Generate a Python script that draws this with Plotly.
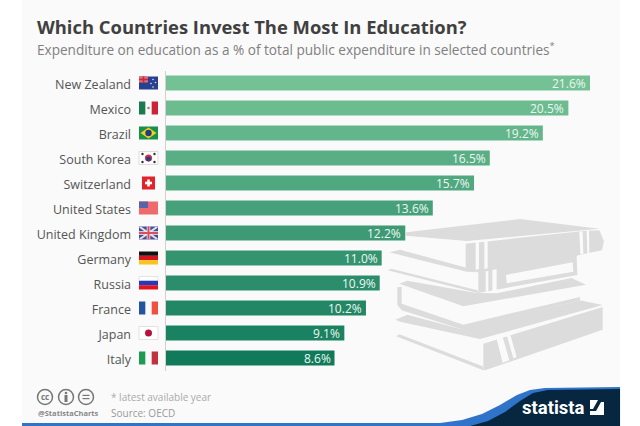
import plotly.graph_objects as go

W, H = 640, 426

countries = ["New Zealand", "Mexico", "Brazil", "South Korea", "Switzerland", "United States",
             "United Kingdom", "Germany", "Russia", "France", "Japan", "Italy"]
shares = [21.6, 20.5, 19.2, 16.5, 15.7, 13.6, 12.2, 11.0, 10.9, 10.2, 9.1, 8.6]
share_labels = ["21.6%", "20.5%", "19.2%", "16.5%", "15.7%", "13.6%",
                "12.2%", "11.0%", "10.9%", "10.2%", "9.1%", "8.6%"]
bar_colors = ["#74c195", "#6cbc90", "#63b58b", "#59ae85", "#50a880", "#46a17b",
              "#3d9a75", "#349470", "#2b8d6b", "#238766", "#1a8161", "#117a5b"]

PANEL = "#fafafa"
GREY = "#dcdcdc"
shapes = []
annotations = []


# everything decorative is placed in picture pixels, y going down
def px(x):
    return x / W


def py(y):
    return 1 - y / H


def poly(points, color, layer="below"):
    path = "M " + " L ".join(f"{px(x):.4f},{py(y):.4f}" for x, y in points) + " Z"
    shapes.append(dict(type="path", xref="paper", yref="paper", path=path,
                       fillcolor=color, line_width=0, layer=layer))


def rect(x0, y0, x1, y1, color, layer="above", border=None):
    shapes.append(dict(type="rect", xref="paper", yref="paper", x0=px(x0), x1=px(x1), y0=py(y0), y1=py(y1),
                       fillcolor=color, line=dict(width=1 if border else 0, color=border or color), layer=layer))


def circle(cx, cy, r, color, layer="above", border=None, width=1):
    shapes.append(dict(type="circle", xref="paper", yref="paper", x0=px(cx - r), x1=px(cx + r),
                       y0=py(cy - r), y1=py(cy + r), fillcolor=color,
                       line=dict(width=width if border else 0, color=border or color), layer=layer))


def label(x, y, text, size, color, anchor="left", family="Open Sans"):
    annotations.append(dict(xref="paper", yref="paper", x=px(x), y=py(y), text=text, showarrow=False,
                            xanchor=anchor, yanchor="middle", align=anchor,
                            font=dict(family=family, size=size, color=color)))


def book_poly(points, color):
    poly([(320 + x / 3, 213 + y / 3) for x, y in points], color)


def draw_books():
    # top book
    book_poly([(258, 58), (600, 18), (838, 47), (440, 84), (258, 68)], GREY)
    book_poly([(437, 92), (790, 54), (838, 52), (852, 85), (846, 112), (795, 122), (770, 128),
               (772, 186), (475, 240), (475, 178), (437, 170)], GREY)
    book_poly([(467, 88), (477, 87), (477, 168), (467, 170)], PANEL)
    book_poly([(493, 84), (503, 83), (503, 166), (493, 168)], PANEL)
    book_poly([(778, 56), (788, 55), (790, 123), (781, 124)], PANEL)
    book_poly([(800, 54), (807, 53), (808, 120), (802, 121)], PANEL)
    # second book
    book_poly([(208, 118), (240, 110), (445, 166), (470, 178), (440, 176)], GREY)
    book_poly([(203, 172), (214, 167), (472, 232), (475, 241), (440, 232)], GREY)
    book_poly([(497, 175), (505, 174), (505, 240), (497, 241)], PANEL)
    book_poly([(517, 171), (530, 169), (530, 238), (517, 240)], PANEL)
    book_poly([(558, 186), (758, 148), (760, 176), (560, 211)], PANEL)
    # third book, open pages with a rounded spine around them
    book_poly([(238, 212), (262, 203), (470, 240), (530, 241), (755, 195), (798, 215), (430, 280)], GREY)
    book_poly([(232, 222), (245, 222), (245, 272), (430, 335), (780, 252), (780, 262), (430, 350),
               (245, 292), (232, 275)], GREY)
    # fourth book
    book_poly([(226, 320), (262, 305), (425, 349), (780, 262), (848, 276), (480, 378), (240, 326)], GREY)
    book_poly([(228, 370), (238, 364), (488, 460), (490, 472), (440, 452)], GREY)
    book_poly([(490, 392), (848, 282), (848, 350), (495, 472), (490, 470)], GREY)
    book_poly([(530, 378), (548, 372), (568, 442), (548, 449)], PANEL)
    book_poly([(560, 366), (570, 362), (590, 432), (580, 436)], PANEL)


def draw_flag(i, name):
    x0, x1 = 139, 158
    cy = 83 + 25 * i
    y0, y1 = cy - 6.5, cy + 6.5
    w = (x1 - x0) / 3
    if name == "New Zealand":
        rect(x0, y0, x1, y1, "#27408f")
        rect(x0, y0, x0 + 9, y0 + 6, "#d9747f")
        rect(x0, y0 + 2.2, x0 + 9, y0 + 3.8, "#d8232f")
        rect(x0 + 3.7, y0, x0 + 5.3, y0 + 6, "#d8232f")
        for dx, dy in [(14, 3), (16.5, 6), (12, 7), (14, 10.5)]:
            circle(x0 + dx, y0 + dy, 0.8, "#e6e6ee")
    elif name == "Mexico":
        rect(x0, y0, x0 + w, y1, "#1b7a50")
        rect(x0 + 2 * w, y0, x1, y1, "#cc2338")
        circle(x0 + 1.5 * w, cy, 1.3, "#9b8a5a")
    elif name == "Brazil":
        rect(x0, y0, x1, y1, "#17924a")
        poly([(x0 + 1.5, cy), (x0 + 9.5, y0 + 1), (x1 - 1.5, cy), (x0 + 9.5, y1 - 1)], "#f2d21e", "above")
        circle(x0 + 9.5, cy, 3.2, "#253a80")
    elif name == "South Korea":
        rect(x0, y0, x1, y1, "#ffffff", border="#dddddd")
        circle(x0 + 9.5, cy, 3.6, "#d8303f")
        circle(x0 + 9.5, cy + 1, 2.4, "#20408f")
        for dx, dy in [(3.5, 2.5), (15.5, 2.5), (3.5, 10.5), (15.5, 10.5)]:
            circle(x0 + dx, y0 + dy, 1.2, "#333333")
    elif name == "Switzerland":
        rect(x0 + 3, y0, x1 - 3, y1, "#e3232c")
        rect(x0 + 6, cy - 1.3, x1 - 6, cy + 1.3, "#ffffff")
        rect(x0 + 8.2, cy - 3.5, x1 - 8.2, cy + 3.5, "#ffffff")
    elif name == "United States":
        rect(x0, y0, x1, y1, "#ef6a6a")
        rect(x0, y0, x0 + 9, y0 + 6.5, "#5a63a8")
    elif name == "United Kingdom":
        rect(x0, y0, x1, y1, "#3f4f9b")
        poly([(x0, y0 + 1), (x0 + 2, y0), (x1, y1 - 1), (x1 - 2, y1)], "#e8dfe6", "above")
        poly([(x0, y1 - 1), (x0 + 2, y1), (x1, y0 + 1), (x1 - 2, y0)], "#e8dfe6", "above")
        rect(x0, cy - 1.8, x1, cy + 1.8, "#f0e8ea")
        rect(x0 + 7.7, y0, x1 - 7.7, y1, "#f0e8ea")
        rect(x0, cy - 1, x1, cy + 1, "#d8505c")
        rect(x0 + 8.5, y0, x1 - 8.5, y1, "#d8505c")
    elif name == "Germany":
        rect(x0, y0, x1, y0 + 4.3, "#111111")
        rect(x0, y0 + 4.3, x1, y0 + 8.7, "#d8141e")
        rect(x0, y0 + 8.7, x1, y1, "#f7c51b")
    elif name == "Russia":
        rect(x0, y0, x1, y0 + 4.3, "#ffffff", border="#e4e4e4")
        rect(x0, y0 + 4.3, x1, y0 + 8.7, "#2438c0")
        rect(x0, y0 + 8.7, x1, y1, "#e3141e")
    elif name == "France":
        rect(x0, y0, x0 + w, y1, "#23559f")
        rect(x0 + 2 * w, y0, x1, y1, "#ef5040")
    elif name == "Japan":
        rect(x0, y0, x1, y1, "#ffffff", border="#e2e2e2")
        circle(x0 + 9.5, cy, 3.5, "#b8123c")
    elif name == "Italy":
        rect(x0, y0, x0 + w, y1, "#1f9a52")
        rect(x0 + 2 * w, y0, x1, y1, "#c0323e")


# page background and footer
rect(22, 0, 620, 426, PANEL, layer="below")
draw_books()
for i, name in enumerate(countries):
    draw_flag(i, name)

poly([(22, 423), (440, 423), (462, 420), (482, 414), (500, 405), (517, 395), (530, 390), (545, 388), (620, 387),
      (620, 426), (22, 426)], "#2f74c8", "above")
poly([(470, 426), (488, 421), (505, 412), (520, 401), (533, 393), (548, 390), (620, 389), (620, 426)],
     "#07263f", "above")
label(520, 408, "<b>statista</b>", 18.5, "#ffffff", family="Liberation Sans Narrow, Roboto")
rect(590, 400, 604, 415, "#ffffff")
poly([(590, 411), (596, 411), (601, 402), (604, 402), (604, 400), (598, 400), (593, 409), (590, 409)], "#07263f", "above")

# licence icons and footnotes
for cx in [45, 66, 86]:
    circle(cx, 397, 7.5, "rgba(0,0,0,0)", border="#777777", width=1.5)
label(45, 396.5, "<b>cc</b>", 8, "#777777", "center")
circle(66, 393, 1.3, "#777777")
rect(64.5, 395, 67.5, 402, "#777777")
rect(82.5, 394.8, 89.5, 396, "#777777")
rect(82.5, 398, 89.5, 399.2, "#777777")
label(36, 413, "<b>@StatistaCharts</b>", 7.5, "#888888")
label(109, 396.5, "* latest available year", 10, "#aaaaaa")
label(109, 413, "Source: OECD", 10, "#999999")

label(35, 49, "Expenditure on education as a % of total public expenditure in selected countries<sup>*</sup>",
      13.6, "#808080")

# value labels sit on the bar ends; as bar text they would get shrunk to the bar height
for country, share, text in zip(countries, shares, share_labels):
    annotations.append(dict(xref="x", yref="y", x=share, y=country, text=text, showarrow=False,
                            xanchor="right", yanchor="middle", xshift=-2,
                            font=dict(family="Open Sans", size=12, color="#eef7f2")))

fig = go.Figure(go.Bar(
    y=countries,
    x=shares,
    orientation="h",
    marker=dict(color=bar_colors, line_width=0),
    hoverinfo="skip",
))

px_per_unit = (590 - 165.5) / 21.6
fig.update_layout(
    width=W,
    height=H,
    margin=dict(l=0, r=0, t=0, b=0),
    paper_bgcolor="#ffffff",
    plot_bgcolor="rgba(0,0,0,0)",
    showlegend=False,
    bargap=0.4,
    font=dict(family="Open Sans"),
    title=dict(text="<b>Which Countries Invest The Most In Education?</b>", x=37 / W, xanchor="left",
               y=py(28), yanchor="middle", font=dict(family="Open Sans", size=18.4, color="#404040")),
    xaxis=dict(domain=[165.5 / W, 1], range=[0, (W - 165.5) / px_per_unit], visible=False, fixedrange=True),
    yaxis=dict(domain=[py(370.5), py(70.5)], type="category", categoryorder="array", categoryarray=countries,
               range=[11.5, -0.5], showgrid=False, showline=True, linecolor="#d0d0d0", linewidth=1,
               ticks="outside", ticklen=31, tickcolor="rgba(0,0,0,0)", ticklabelshift=-2,
               tickfont=dict(family="Open Sans", size=12.5, color="#555555"), fixedrange=True),
    shapes=shapes,
    annotations=annotations,
)

fig.write_html("out.html", config=dict(displayModeBar=False),
               post_script="document.body.style.margin='0';")
